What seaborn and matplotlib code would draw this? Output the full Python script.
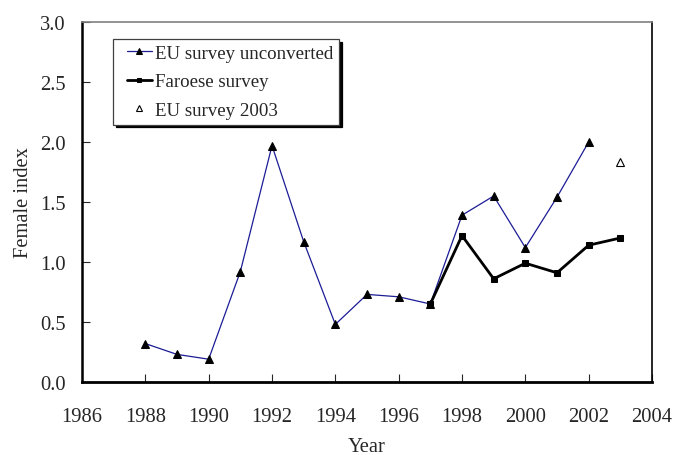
import matplotlib
matplotlib.use('Agg')
import matplotlib.pyplot as plt
from matplotlib.lines import Line2D
from matplotlib.legend_handler import HandlerLine2D
import seaborn as sns
import pandas as pd

# valores
eu_years = [1988, 1989, 1990, 1991, 1992, 1993, 1994, 1995, 1996, 1997,
            1998, 1999, 2000, 2001, 2002]
eu_values = [0.32, 0.23, 0.19, 0.92, 1.97, 1.17, 0.48, 0.73, 0.71, 0.65,
             1.39, 1.55, 1.12, 1.54, 2.00]
far_years = [1997, 1998, 1999, 2000, 2001, 2002, 2003]
far_values = [0.65, 1.22, 0.86, 0.99, 0.91, 1.14, 1.20]
eu03_years = [2003]
eu03_values = [1.83]

xticks = list(range(1986, 2005, 2))
yticks = [0.0, 0.5, 1.0, 1.5, 2.0, 2.5, 3.0]

sns.set_style('white')
plt.rcParams['font.family'] = ['Liberation Serif', 'DejaVu Serif']
plt.rcParams['font.size'] = 14

df_eu = pd.DataFrame({'year': eu_years, 'val': eu_values})
df_far = pd.DataFrame({'year': far_years, 'val': far_values})
df_03 = pd.DataFrame({'year': eu03_years, 'val': eu03_values})

fig = plt.figure(figsize=(6.74, 4.56), dpi=100)
ax = fig.add_axes([82 / 674, 1 - 383 / 456, 570 / 674, 360 / 456])

sns.lineplot(data=df_eu, x='year', y='val', ax=ax, color='#1c1c96', lw=0.9,
             marker='^', markersize=5.2, markerfacecolor='black',
             markeredgecolor='black', label='EU survey unconverted')
sns.lineplot(data=df_far, x='year', y='val', ax=ax, color='black', lw=2,
             marker='s', markersize=4.3, markerfacecolor='black',
             markeredgecolor='black', label='Faroese survey')
ax.plot(df_03['year'], df_03['val'], ls='none', marker='^', markersize=5.2,
        markerfacecolor='white', markeredgecolor='black', markeredgewidth=0.8,
        label='EU survey 2003')

ax.set_xlim(1986, 2004)
ax.set_ylim(0, 3.0)
ax.set_xticks(xticks)
ax.set_yticks(yticks)
ax.set_yticklabels([f'{v:.1f}' for v in yticks])
ax.tick_params(axis='x', direction='in', length=6, width=0.8, pad=18, labelsize=14.8)
ax.tick_params(axis='y', direction='in', length=6, width=0.8, pad=11.5, labelsize=14.8)
ax.xaxis.set_ticks_position('bottom')
ax.yaxis.set_ticks_position('left')
ax.spines['bottom'].set_linewidth(2)
ax.spines['bottom'].set_color('black')
ax.spines['left'].set_linewidth(1.8)
ax.spines['left'].set_color('black')
ax.spines['top'].set_linewidth(1.2)
ax.spines['top'].set_color('#808080')
ax.spines['right'].set_linewidth(1.2)
ax.spines['right'].set_color('black')

ax.set_xlabel('Year', fontsize=14.8, labelpad=8)
ax.set_ylabel('Female index', fontsize=14.8, labelpad=5)

leg = ax.legend(loc='upper left', bbox_to_anchor=(0.054, 0.953), fontsize=13.6,
                fancybox=False, frameon=True, shadow={'color': 'black', 'alpha': 1},
                borderaxespad=0, handlelength=1.75, handletextpad=0.2,
                labelspacing=0.6, borderpad=0.3, markerscale=0.8,
                handler_map={Line2D: HandlerLine2D(xpad=0.45)})
leg.get_frame().set_edgecolor('#404040')
leg.get_frame().set_linewidth(0.9)
leg.get_frame().set_alpha(1)

fig.savefig('out.png', dpi=100)
